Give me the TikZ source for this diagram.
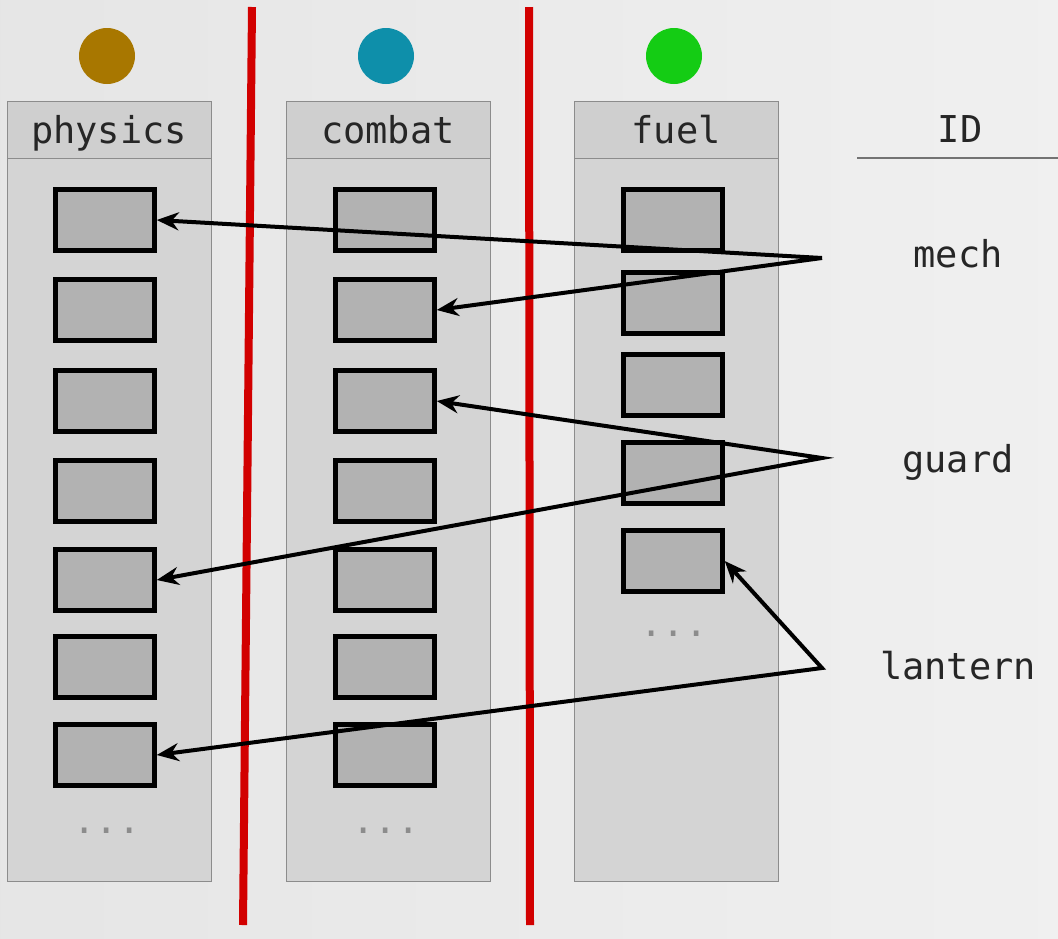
\documentclass[tikz,border=0pt]{standalone}
\usepackage{fontspec}
\setmonofont{DejaVu Sans Mono}
\usetikzlibrary{arrows.meta}
\definecolor{physcol}{HTML}{A87700}
\definecolor{combcol}{HTML}{0E8FAA}
\definecolor{fuelcol}{HTML}{14CC14}
\definecolor{sepred}{HTML}{D20000}
\begin{document}
\begin{tikzpicture}[x=1pt, y=-1pt,
  every node/.style={font=\ttfamily\fontsize{37}{37}\selectfont, text=black!85},
  lbl/.style={anchor=base},
  slot/.style={draw=black, line width=4.5pt, fill=black!30, minimum width=99pt, minimum height=61pt, inner sep=0pt},
  ptr/.style={{Stealth[length=22pt,width=18pt]}-{Stealth[length=22pt,width=18pt]}, line width=4pt}]
\useasboundingbox (0,0) rectangle (1058,938);
\shade[left color=black!10, middle color=black!3, right color=black!6] (0,0) rectangle (1058,938);
% columns
\foreach \name/\x/\col in {physics/109/physcol, combat/388/combcol, fuel/676/fuelcol} {
  \draw[draw=black!45, fill=black!17, line width=1pt] (\x-102,101) rectangle (\x+102,881);
  \draw[draw=black!45, fill=black!19, line width=1pt] (\x-102,101) rectangle (\x+102,158);
  \node[lbl] (\name) at (\x,143) {\name};
  \fill[\col] (\x-2,56) circle (28);
}
% slots
\foreach \i/\y in {1/220, 2/310, 3/401, 4/491, 5/580, 6/667, 7/755} {
  \node[slot] (p\i) at (105,\y) {};
  \node[slot] (c\i) at (385,\y) {};
}
\foreach \i/\y in {1/220, 2/303, 3/385, 4/473, 5/561}
  \node[slot] (f\i) at (673,\y) {};
\node[text=black!45] (p-more) at (107,831) {...};
\node[text=black!45] (c-more) at (386,831) {...};
\node[text=black!45] (f-more) at (674,634) {...};
% separators
\draw[sepred, line width=8pt] (252,7) -- (243,925);
\draw[sepred, line width=8pt] (529,7) -- (530,925);
% id table
\node[lbl] (id) at (960,142) {ID};
\draw[black!55, line width=1.5pt] (857,158) -- (1058,158);
\node[lbl] (mech) at (958,267) {mech};
\node[lbl] (guard) at (958,472) {guard};
\node[lbl] (lantern) at (958,679) {lantern};
\coordinate (mech-src) at (822,258);
\coordinate (guard-src) at (822,458);
\coordinate (lantern-src) at (822,668);
\draw[ptr] (p1.east) -- (mech-src) -- (c2.east);
\draw[ptr] (c3.east) -- (guard-src) -- (p5.east);
\draw[ptr] (f5.east) -- (lantern-src) -- (p7.east);
\end{tikzpicture}
\end{document}
